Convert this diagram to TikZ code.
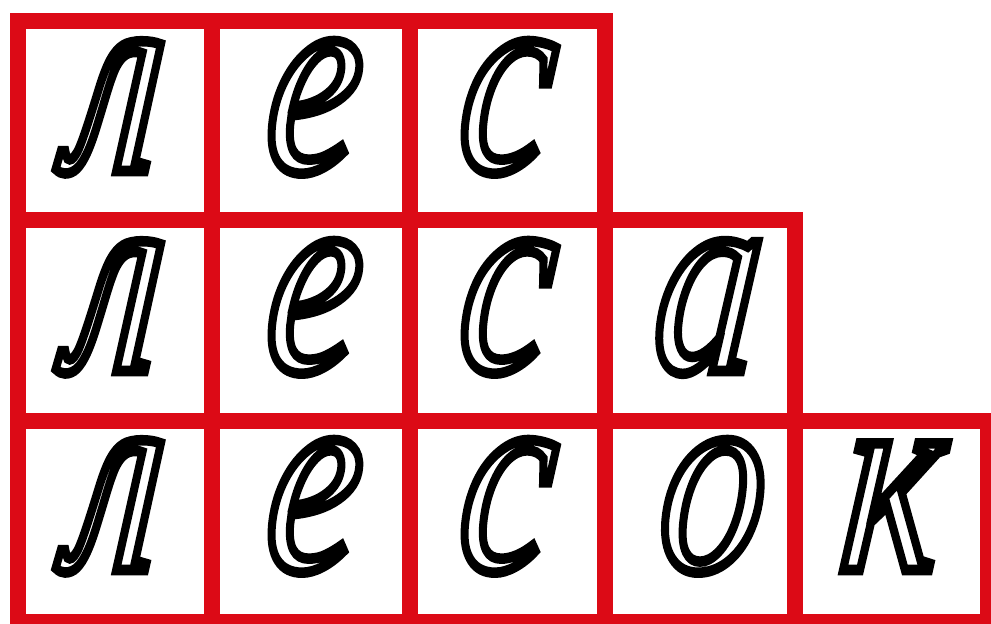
\documentclass[tikz,border=0pt]{standalone}
\usepackage{fontspec}
\newfontfamily\cyr{Liberation Serif}[FakeSlant=0.12]
\definecolor{gridred}{RGB}{220,10,22}
\newcommand\hollowletter[1]{\scalebox{0.76}[1]{\special{pdf:literal direct 1 Tr 10.5 w}#1\special{pdf:literal direct 0 Tr}}}
\tikzset{
  cellframe/.style={draw=gridred, line width=16pt, line join=miter},
  letter/.style={anchor=base, inner sep=0pt, font=\cyr\itshape\fontsize{276}{276}\selectfont},
}
\begin{document}
\begin{tikzpicture}[x=1pt,y=-1pt]
\useasboundingbox (0,0) rectangle (991,624);
\fill[white] (0,0) rectangle (991,624);
% row 1
\draw[cellframe] (18,21) rectangle (212,220);
\draw[cellframe] (212,21) rectangle (410,220);
\draw[cellframe] (410,21) rectangle (605,220);
% row 2
\draw[cellframe] (18,220) rectangle (212,421);
\draw[cellframe] (212,220) rectangle (410,421);
\draw[cellframe] (410,220) rectangle (605,421);
\draw[cellframe] (605,220) rectangle (795,421);
% row 3
\draw[cellframe] (18,421) rectangle (212,622);
\draw[cellframe] (212,421) rectangle (410,622);
\draw[cellframe] (410,421) rectangle (605,622);
\draw[cellframe] (605,421) rectangle (795,622);
\draw[cellframe] (795,421) rectangle (988,622);
% letters row 1
\node[letter] (a1) at (111,171) {\hollowletter{л}};
\node[letter] (a2) at (308,171) {\hollowletter{е}};
\node[letter] (a3) at (501,171) {\hollowletter{с}};
% row 2
\node[letter] (b1) at (111,371) {\hollowletter{л}};
\node[letter] (b2) at (308,371) {\hollowletter{е}};
\node[letter] (b3) at (501,371) {\hollowletter{с}};
\node[letter] (b4) at (702,371) {\hollowletter{а}};
% row 3
\node[letter] (c1) at (111,570) {\hollowletter{л}};
\node[letter] (c2) at (308,570) {\hollowletter{е}};
\node[letter] (c3) at (501,570) {\hollowletter{с}};
\node[letter] (c4) at (707,570) {\hollowletter{о}};
\node[letter] (c5) at (886,570) {\hollowletter{к}};
\end{tikzpicture}
\end{document}
